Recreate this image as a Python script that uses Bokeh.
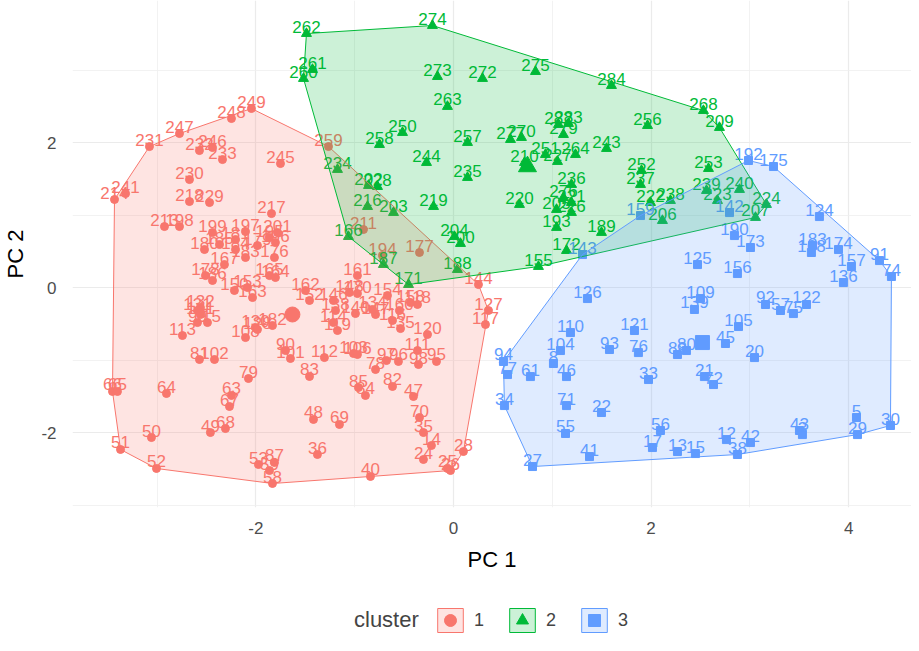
import numpy as np
from bokeh.plotting import figure
from bokeh.layouts import column
from bokeh.models import ColumnDataSource, FixedTicker, Legend, LegendItem, Range1d
from bokeh.core.properties import value
from bokeh.embed import file_html
from bokeh.resources import INLINE

# ---------------- data (PC1, PC2 per observation) ----------------
c1_labels = ["249","248","247","231","232","246","233","245","230","214","241","218","229","213","198",
             "199","197","217","201","181","180","185","184","183","179","195","196","176","178","186",
             "167","150","153","163","165","164","132","131","141","99","115","113","81","102","130",
             "108","182","128","79","64","66","65","63","67","49","68","50","51","52","53","87","59",
             "58","83","48","69","36","40","85","84","82","78","47","70","35","14","24","25","26","28",
             "95","97","96","111","112","103","106","90","101","120","144","127","117","161","170","148",
             "154","158","118","162","152","146","138","147","116","114","119","211","194","177","259",
             "140","160","135","134","98"]
c1_x = [-2.045,-2.247,-2.773,-3.077,-2.571,-2.439,-2.338,-1.751,-2.672,-3.431,-3.319,-2.672,-2.469,-2.925,-2.773,
        -2.439,-2.105,-1.842,-1.781,-2.206,-2.520,-2.368,-2.206,-2.105,-1.984,-1.862,-1.802,-1.812,-2.510,-2.439,
        -2.318,-2.217,-2.085,-2.034,-1.862,-1.802,-2.561,-2.591,-2.561,-2.591,-2.490,-2.743,-2.571,-2.419,-2.004,
        -2.105,-1.832,-1.984,-2.075,-2.905,-3.451,-3.401,-2.247,-2.267,-2.460,-2.308,-3.057,-3.370,-3.006,-1.974,-1.812,-1.862,
        -1.832,-1.457,-1.417,-1.154,-1.377,-0.840,-0.962,-0.891,-0.617,-0.789,-0.405,-0.344,-0.304,-0.223,-0.304,-0.061,-0.030,0.101,
        -0.172,-0.678,-0.557,-0.364,-1.306,-1.012,-0.972,-1.700,-1.650,-0.263,0.253,0.354,0.324,-0.972,-0.972,-1.053,
        -0.668,-0.435,-0.364,-1.498,-1.457,-1.215,-1.194,-0.789,-0.617,-1.215,-1.174,-0.911,-0.719,-0.344,-1.265,
        -0.992,-0.547,-0.536,-0.820,-0.354]
c1_y = [2.469,2.331,2.124,1.944,1.889,1.931,1.765,1.710,1.489,1.214,1.296,1.186,1.172,0.841,0.841,
        0.758,0.772,1.020,0.758,0.662,0.524,0.593,0.524,0.414,0.579,0.690,0.621,0.414,0.165,0.097,
        0.317,-0.041,0.000,-0.138,0.165,0.138,-0.276,-0.317,-0.372,-0.483,-0.483,-0.662,-0.993,-0.993,-0.552,
        -0.690,-0.524,-0.579,-1.255,-1.462,-1.434,-1.434,-1.489,-1.641,-2.000,-1.945,-2.069,-2.234,-2.496,-2.441,-2.413,-2.524,
        -2.703,-1.227,-1.820,-1.889,-2.303,-2.606,-1.379,-1.489,-1.365,-1.131,-1.503,-1.793,-2.000,-2.179,-2.372,-2.496,-2.524,-2.262,
        -1.020,-1.007,-1.020,-0.869,-0.966,-0.910,-0.924,-0.869,-0.979,-0.648,0.041,-0.317,-0.510,0.165,-0.083,-0.069,
        -0.110,-0.207,-0.234,-0.041,-0.179,-0.179,-0.317,-0.372,-0.455,-0.483,-0.593,0.800,0.441,0.483,1.945,
        -0.359,-0.317,-0.566,-0.303,-1.062]

c2_labels = ["262","274","261","260","273","272","263","250","258","257","244","234","235","202","228",
             "216","203","219","166","187","171","204","200","188","275","284","268","209","256","277",
             "270","282","283","279","251","264","210","227","243","236","252","237","222","238","220",
             "221","205","226","189","172","193","155","206","253","239","240","223","224","207","276"]
c2_x = [-1.488,-0.213,-1.427,-1.518,-0.162,0.294,-0.061,-0.516,-0.749,0.142,-0.273,-1.174,0.142,-0.860,-0.769,
        -0.870,-0.607,-0.202,-1.063,-0.709,-0.455,0.010,0.071,0.040,0.830,1.599,2.530,2.692,1.964,0.577,
        0.688,1.063,1.164,1.113,0.931,1.235,0.719,1.053,1.549,1.194,1.903,1.893,1.994,2.196,0.668,
        1.194,1.043,1.194,1.498,1.144,1.043,0.860,2.115,2.581,2.561,2.895,2.672,3.168,3.057,1.113]
c2_y = [3.503,3.614,3.007,2.883,2.910,2.883,2.497,2.138,1.972,2.000,1.724,1.628,1.517,1.407,1.393,
        1.117,1.034,1.117,0.703,0.317,0.041,0.703,0.607,0.248,2.979,2.786,2.441,2.207,2.234,2.041,
        2.069,2.248,2.262,2.110,1.834,1.834,1.724,1.738,1.917,1.421,1.614,1.421,1.172,1.200,1.145,
        1.172,1.076,1.034,0.759,0.510,0.828,0.290,0.924,1.641,1.338,1.352,1.200,1.145,0.966,1.241]

c3_labels = ["143","159","126","110","121","125","109","139","94","77","61","104","8","46","71","34",
             "22","55","41","27","33","56","17","13","15","76","93","88","80","20","21","72","45",
             "12","38","42","43","3","5","29","30","124","183","168","174","157","136","91","74",
             "173","190","142","156","92","57","75","122","105","192","175"]
c3_x = [1.306,1.893,1.356,1.184,1.832,2.470,2.500,2.439,0.506,0.547,0.779,1.083,1.012,1.144,1.144,0.516,
        1.498,1.134,1.377,0.800,1.974,2.095,2.014,2.267,2.449,1.872,1.579,2.267,2.358,3.047,2.540,2.632,2.753,
        2.763,2.874,3.006,3.502,3.532,4.079,4.089,4.423,3.704,3.634,3.623,3.897,4.028,3.947,4.312,4.433,
        3.006,2.844,2.794,2.874,3.158,3.310,3.441,3.573,2.885,2.986,3.239]
c3_y = [0.455,0.993,-0.152,-0.621,-0.593,0.317,-0.152,-0.303,-1.020,-1.200,-1.228,-0.869,-1.048,-1.228,-1.628,-1.628,
        -1.724,-2.013,-2.331,-2.469,-1.269,-1.972,-2.207,-2.262,-2.290,-0.897,-0.855,-0.924,-0.869,-0.966,-1.228,-1.338,-0.772,
        -2.097,-2.303,-2.138,-1.972,-2.028,-1.793,-2.028,-1.903,0.979,0.579,0.483,0.524,0.290,0.069,0.372,0.152,
        0.552,0.717,1.034,0.193,-0.234,-0.317,-0.359,-0.234,-0.538,1.752,1.669]

center_x = [-1.630, 0.749, 2.520]
center_y = [-0.372, 1.669, -0.759]

cluster_names = ["1", "2", "3"]
legend_title = "cluster"
colors = ["#F8766D", "#00BA38", "#619CFF"]
markers = ["circle", "triangle", "square"]
point_sizes = [8, 10, 8]
center_sizes = [15, 18, 14]

x_ticks = [-2, 0, 2, 4]
x_minor = [-3, -1, 1, 3]
y_ticks = [-2, 0, 2]
y_minor = [-3, -1, 1, 3]


def convex_hull(xs, ys):
    pts = sorted(set(zip(xs, ys)))
    def cross(o, a, b):
        return (a[0]-o[0])*(b[1]-o[1]) - (a[1]-o[1])*(b[0]-o[0])
    lower, upper = [], []
    for pt in pts:
        while len(lower) >= 2 and cross(lower[-2], lower[-1], pt) <= 0:
            lower.pop()
        lower.append(pt)
    for pt in reversed(pts):
        while len(upper) >= 2 and cross(upper[-2], upper[-1], pt) <= 0:
            upper.pop()
        upper.append(pt)
    hull = lower[:-1] + upper[:-1]
    return [h[0] for h in hull], [h[1] for h in hull]


FONT = "Liberation Sans"

p = figure(frame_width=839, frame_height=507, output_backend="svg", toolbar_location=None,
           x_range=Range1d(-3.856, 4.636), y_range=Range1d(-3.034, 3.959),
           min_border_left=64, min_border_right=0, min_border_top=0, min_border_bottom=70)
p.background_fill_color = "white"
p.border_fill_color = "white"
p.outline_line_color = None

for ax, t, m in ((p.xaxis, x_ticks, x_minor), (p.yaxis, y_ticks, y_minor)):
    ax.ticker = FixedTicker(ticks=t, minor_ticks=m)
    ax.major_label_overrides = {v: str(v) for v in t}
    ax.axis_line_color = None
    ax.major_tick_line_color = None
    ax.minor_tick_line_color = None
    ax.major_label_text_color = "#4D4D4D"
    ax.major_label_text_font = FONT
    ax.major_label_text_font_size = "17px"
    ax.axis_label_text_font = FONT
    ax.axis_label_text_font_size = "22px"
    ax.axis_label_text_font_style = "normal"
    ax.axis_label_text_color = "black"
p.xaxis.axis_label = "PC 1"
p.yaxis.axis_label = "PC 2"
p.xaxis.major_label_standoff = 8
p.yaxis.major_label_standoff = 10
p.xaxis.axis_label_standoff = 10
p.yaxis.axis_label_standoff = 10

p.xgrid.ticker = FixedTicker(ticks=x_ticks, minor_ticks=x_minor)
p.ygrid.ticker = FixedTicker(ticks=y_ticks, minor_ticks=y_minor)
for g in (p.xgrid, p.ygrid):
    g.grid_line_color = "#EBEBEB"
    g.grid_line_width = 1.2
    g.minor_grid_line_color = "#EFEFEF"
    g.minor_grid_line_width = 0.8

data = [(c1_labels, c1_x, c1_y), (c2_labels, c2_x, c2_y), (c3_labels, c3_x, c3_y)]

for i, (lab, xs, ys) in enumerate(data):
    src = ColumnDataSource(dict(x=xs, y=ys, lab=lab))
    p.scatter("x", "y", source=src, marker=markers[i], size=point_sizes[i],
              fill_color=colors[i], line_color=colors[i])

for i, (lab, xs, ys) in enumerate(data):
    src = ColumnDataSource(dict(x=xs, y=ys, lab=lab))
    p.text("x", "y", text="lab", source=src, text_color=colors[i],
           text_font=value(FONT), text_font_size="17px", text_align="center",
           text_baseline="alphabetic", y_offset=-7)

for i in range(3):
    p.scatter([center_x[i]], [center_y[i]], marker=markers[i], size=center_sizes[i],
              fill_color=colors[i], line_color=colors[i])

for i, (lab, xs, ys) in enumerate(data):
    hx, hy = convex_hull(xs, ys)
    p.patch(hx, hy, fill_color=colors[i], fill_alpha=0.2, line_color=colors[i], line_width=1)

# ---------------- legend strip (separate figure below the plot) ----------------
leg = figure(width=903, height=58, output_backend="svg", toolbar_location=None,
             x_range=Range1d(0, 1), y_range=Range1d(0, 1),
             min_border_left=0, min_border_right=0, min_border_top=0, min_border_bottom=0)
leg.xaxis.visible = False
leg.yaxis.visible = False
leg.grid.visible = False
leg.outline_line_color = None
leg.background_fill_color = "white"
leg.border_fill_color = "white"

# key renderers sit outside the strip's visible range; only their legend swatches show
off = [5.0, 6.0, 6.0]
off_y = [5.0, 5.0, 6.0]
dummy = leg.scatter(x=[5.0], y=[5.0], size=1, fill_alpha=0, line_alpha=0)
title_legend = Legend(items=[LegendItem(label=legend_title, renderers=[dummy])],
                      orientation="horizontal", location=(279, 0),
                      glyph_width=1, glyph_height=30, label_text_font=FONT,
                      label_text_font_size="22px", label_standoff=2,
                      border_line_color=None, background_fill_alpha=0, margin=0, padding=2)
leg.add_layout(title_legend, "center")

items = []
for i in range(3):
    hr = leg.patch(x=off, y=off_y, fill_color=colors[i], fill_alpha=0.2, line_color=colors[i], line_width=1)
    pr = leg.scatter(x=[5.0], y=[5.0], marker=markers[i], size=point_sizes[i] + 2,
                     fill_color=colors[i], line_color=colors[i])
    items.append(LegendItem(label=cluster_names[i], renderers=[hr, pr]))
legend = Legend(items=items, orientation="horizontal", location=(362, 0),
                glyph_width=32, glyph_height=30, label_text_font=FONT,
                label_text_font_size="18px", spacing=12, label_standoff=8, label_width=20,
                border_line_color=None, background_fill_alpha=0, margin=0, padding=0)
leg.add_layout(legend, "center")

open("out.html", "w").write(file_html(column(p, leg, spacing=0), INLINE))
